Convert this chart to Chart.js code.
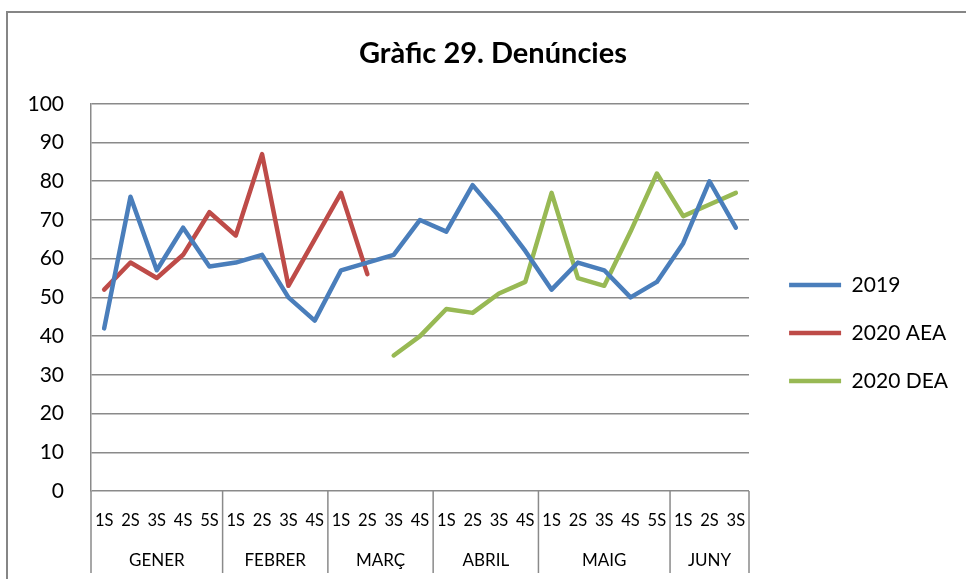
<!DOCTYPE html>
<html>
<head>
<meta charset="utf-8">
<script src="https://cdn.jsdelivr.net/npm/chart.js@4.4.1/dist/chart.umd.min.js"></script>
<style>
  body { margin: 0; background: #fff; }
</style>
</head>
<body>
<canvas id="myChart" width="966" height="579"></canvas>
<script>
// categories
const months = ['GENER', 'FEBRER', 'MARÇ', 'ABRIL', 'MAIG', 'JUNY'];
const weeksPerMonth = [5, 4, 4, 4, 5, 3];
const weekLabels = ['1S', '2S', '3S', '4S', '5S',
    '1S', '2S', '3S', '4S',
    '1S', '2S', '3S', '4S',
    '1S', '2S', '3S', '4S',
    '1S', '2S', '3S', '4S', '5S',
    '1S', '2S', '3S'];

// series
const values2019 = [42, 76, 57, 68, 58, 59, 61, 50, 44, 57, 59, 61, 70, 67, 79, 71, 62, 52, 59, 57, 50, 54, 64, 80, 68];
const values2020AEA = [52, 59, 55, 61, 72, 66, 87, 53, 65, 77, 56,
    null, null, null, null, null, null, null, null, null, null, null, null, null, null];
const values2020DEA = [null, null, null, null, null, null, null, null, null, null, null,
    35, 40, 47, 46, 51, 54, 77, 55, 53, 67, 82, 71, 74, 77];

const gridColor = '#8a8a8a';
const padLeft = 28, padRight = 8; // title centre stays at ~493

Chart.defaults.font.family = 'Lato';
Chart.defaults.color = '#000';

function lineSet(label, color, values) {
    return {
        label: label,
        data: values,
        borderColor: color,
        backgroundColor: color,
        borderWidth: 4.5,
        borderCapStyle: 'round',
        borderJoinStyle: 'round',
        pointRadius: 0,
        pointHoverRadius: 0,
        tension: 0,
        fill: false,
        spanGaps: false
    };
}

// frame round the chart + month row under the axis
const framePlugin = {
    id: 'frame',
    beforeDraw(chart) {
        const ctx = chart.ctx;
        ctx.save();
        ctx.strokeStyle = '#868686';
        ctx.lineWidth = 2;
        ctx.beginPath();
        ctx.moveTo(7, chart.height);
        ctx.lineTo(7, 12);
        ctx.lineTo(chart.width, 12);
        ctx.stroke();
        ctx.restore();
    },
    afterDraw(chart) {
        const { ctx, chartArea } = chart;
        const x = chart.scales.x;
        const half = (x.getPixelForValue(1) - x.getPixelForValue(0)) / 2;
        const edges = [x.getPixelForValue(0) - half];
        ctx.save();
        ctx.font = '17px Lato';
        ctx.fillStyle = '#000';
        ctx.textAlign = 'center';
        ctx.textBaseline = 'middle';
        let start = 0;
        months.forEach((m, i) => {
            const end = start + weeksPerMonth[i];
            const left = x.getPixelForValue(start) - half;
            const right = x.getPixelForValue(end - 1) + half;
            ctx.fillText(m, (left + right) / 2, 561);
            edges.push(right);
            start = end;
        });
        ctx.strokeStyle = gridColor;
        ctx.lineWidth = 1.5;
        edges.forEach(e => {
            ctx.beginPath();
            ctx.moveTo(e, chartArea.bottom);
            ctx.lineTo(e, 573);
            ctx.stroke();
        });
        ctx.restore();
    }
};

let ctx = document.getElementById('myChart').getContext('2d');
let myChart = new Chart(ctx, {
    type: 'line',
    data: {
        labels: weekLabels,
        datasets: [
            lineSet('2019', '#4a7ebb', values2019),
            lineSet('2020 AEA', '#be4b48', values2020AEA),
            lineSet('2020 DEA', '#98b954', values2020DEA)
        ]
    },
    options: {
        responsive: false,
        animation: false,
        layout: { padding: { left: padLeft, right: padRight, top: 10, bottom: 0 } },
        plugins: {
            title: {
                display: true,
                text: 'Gràfic 29. Denúncies',
                font: { size: 29, weight: 'bold' },
                color: '#000',
                padding: { top: 26, bottom: 33 }
            },
            legend: {
                position: 'right',
                align: 'start',
                maxWidth: 260,
                // empty legend title only pushes the entries down
                title: { display: true, text: '', font: { size: 12 }, padding: { top: 223, bottom: 0 } },
                labels: {
                    usePointStyle: true,
                    pointStyle: 'line',
                    pointStyleWidth: 52,
                    font: { size: 21 },
                    color: '#000',
                    padding: 27
                }
            },
            tooltip: { enabled: false }
        },
        scales: {
            x: {
                offset: true,
                grid: { display: false },
                border: { display: false },
                ticks: { font: { size: 16.5 }, maxRotation: 0, autoSkip: false, padding: 12 },
                afterFit(scale) { scale.height = 88; }
            },
            y: {
                min: 0,
                max: 100,
                ticks: { stepSize: 10, font: { size: 21 }, padding: 27 },
                grid: { color: gridColor, lineWidth: 1.5, drawTicks: false },
                border: { display: true, color: gridColor, width: 1.5 },
                afterFit(scale) { scale.width = 91 - padLeft; }
            },
            // empty axis: keeps a gap between plot and legend
            gap: {
                type: 'linear',
                position: 'right',
                grid: { display: false },
                border: { display: false },
                ticks: { display: false },
                afterFit(scale) {
                    scale.width = scale.chart.width - padRight - scale.chart.legend.width - 749;
                }
            }
        }
    },
    plugins: [framePlugin]
});
</script>
</body>
</html>
